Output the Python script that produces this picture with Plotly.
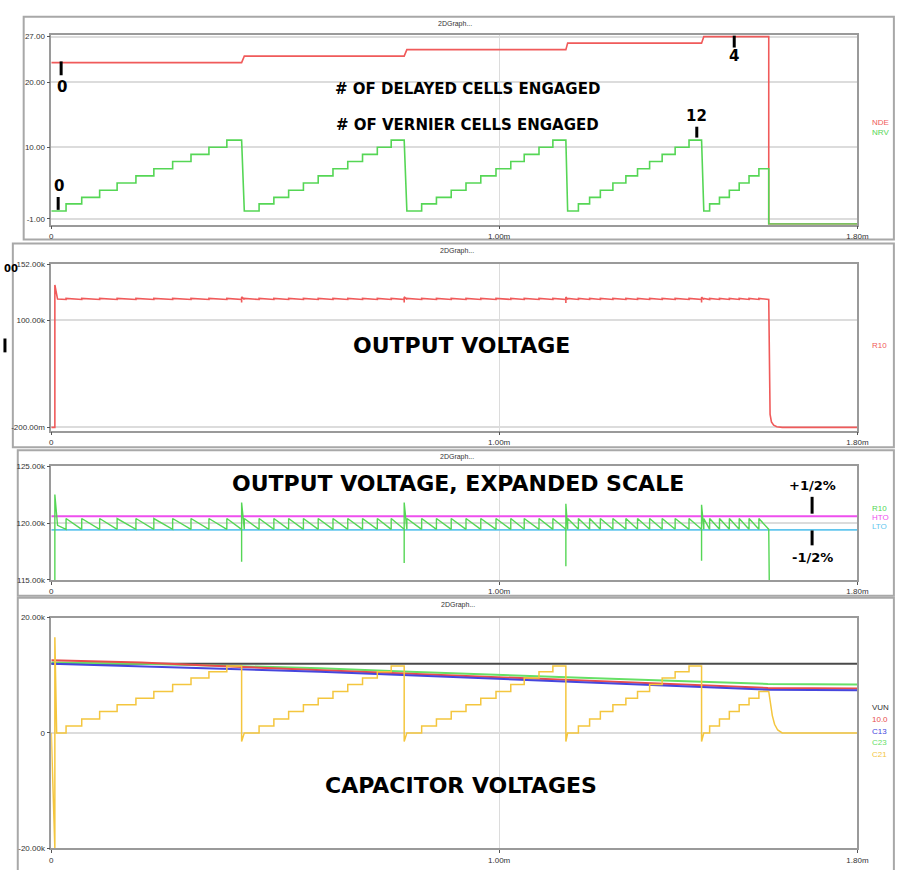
import plotly.graph_objects as go

W, H = 897, 870

# ---------------- data (time in ms) ----------------
# vernier step start times for each ramp (one list per delayed-cell state)
ramp1_t = [0.000, 0.033, 0.068, 0.108, 0.147, 0.189, 0.229, 0.271, 0.312, 0.352, 0.392]
ramp2_t = [0.431, 0.464, 0.497, 0.530, 0.563, 0.596, 0.629, 0.662, 0.695, 0.728, 0.759]
ramp3_t = [0.794, 0.827, 0.860, 0.893, 0.926, 0.959, 0.993, 1.026, 1.056, 1.089, 1.120]
ramp4_t = [1.153, 1.177, 1.202, 1.226, 1.254, 1.283, 1.309, 1.336, 1.364, 1.393, 1.424]
ramp5_t = [1.457, 1.470, 1.492, 1.514, 1.536, 1.558, 1.580]
ramp_times = [ramp1_t, ramp2_t, ramp3_t, ramp4_t, ramp5_t]
ramp_ends = [0.425, 0.788, 1.149, 1.452, 1.602]   # last one = turn-off
t_stop = 1.8

# panel 1 values
vern_vals = [0.2, 1.3, 2.3, 3.4, 4.5, 5.6, 6.7, 7.8, 8.9, 10.0, 11.1]
delay_vals = [23, 24, 25, 26, 27]
off_level = -1.8

# panel 2/3 output voltage values
vout_high = 120400
vout_low = 119450
vout_settle = 119800
vout_peak_p2 = 133000
vout_peak_p3 = 122500
spike_hi = [121800, 121800, 121700, 121600]
spike_lo = [116600, 116500, 116200, 116700]
vout_off_t = [1.602, 1.605, 1.608, 1.613, 1.620, 1.632, 1.8]
vout_off_v = [119450, 12000, 5000, 2000, 600, 0, 0]
htol = 120600
ltol = 119400

# panel 4 capacitor voltages
cap_t = [0.0, 0.2, 0.4, 0.6, 0.8, 1.0, 1.2, 1.4, 1.6, 1.8]
vunreg = [12000, 12000, 12000, 12000, 12000, 12000, 12000, 12000, 12000, 12000]
cap_red = [12600, 12200, 11500, 10900, 10200, 9600, 9000, 8500, 7800, 7700]
cap_blue = [12000, 11600, 11100, 10600, 10000, 9400, 8700, 8100, 7500, 7400]
cap_green = [12200, 12000, 11600, 11200, 10600, 10000, 9500, 9000, 8500, 8400]
yel_vals = [0, 1200, 2400, 3700, 4900, 6000, 7200, 8400, 9500, 10600, 11600]
yel_drop = -1500
yel_start_t = [0.0, 0.008, 0.008, 0.012]
yel_start_v = [0, -20000, 16600, 0]
yel_off_t = [1.602, 1.606, 1.610, 1.615, 1.622, 1.632, 1.8]
yel_off_v = [7200, 5000, 3000, 1500, 500, 0, 0]

# legend labels (visible part at the right edge of the window)
leg_p1 = ["NDE", "NRV"]
leg_p2 = ["R10"]
leg_p3 = ["R10", "HTO", "LTO"]
leg_p4 = ["VUN", "10.0", "C13", "C23", "C21"]

# ---------------- build traces ----------------
# vernier count
gx, gy = [], []
for times, tend in zip(ramp_times, ramp_ends):
    for i, t in enumerate(times):
        t2 = times[i + 1] if i + 1 < len(times) else tend
        gx += [t, t2]
        gy += [vern_vals[i], vern_vals[i]]
gx += [ramp_ends[-1], t_stop]
gy += [off_level, off_level]

# delayed count
rx, ry = [], []
for k, times in enumerate(ramp_times):
    rx += [times[0], ramp_ends[k]]
    ry += [delay_vals[k], delay_vals[k]]
rx += [ramp_ends[-1], t_stop]
ry += [off_level, off_level]


def make_vout(peak):
    xs = [0.0, 0.008, 0.008, 0.014]
    ys = [0, 0, peak, vout_settle]
    for k, times in enumerate(ramp_times):
        start = 1 if k == 0 else 0
        for t in times[start:]:
            xs += [t, t]
            ys += [vout_low, vout_high]
        if k < len(ramp_times) - 1:
            te = ramp_ends[k]
            xs += [te, te, te]
            ys += [vout_low, spike_lo[k], spike_hi[k]]
    xs += vout_off_t
    ys += vout_off_v
    return xs, ys


v2x, v2y = make_vout(vout_peak_p2)
v3x, v3y = make_vout(vout_peak_p3)

# capacitor (yellow) staircase
yx, yy = list(yel_start_t), list(yel_start_v)
for k, (times, tend) in enumerate(zip(ramp_times, ramp_ends)):
    for i, t in enumerate(times):
        t2 = times[i + 1] if i + 1 < len(times) else tend
        if k == 0 and i == 0:
            t = yel_start_t[-1]
        yx += [t, t2]
        yy += [yel_vals[i], yel_vals[i]]
    if k < len(ramp_times) - 1:
        yx.append(tend)
        yy.append(yel_drop)
yx += yel_off_t
yy += yel_off_v

# ---------------- colours ----------------
RED = "#f05a5a"
GREEN = "#55d655"
MAGENTA = "#ee4fee"
CYAN = "#62c6ee"
C_BLACK = "#4a4a4a"
C_RED = "#e84c4c"
C_BLUE = "#4646de"
C_GREEN = "#66e066"
C_YEL = "#f4c63e"

fig = go.Figure()
fig.add_trace(go.Scatter(x=rx, y=ry, mode="lines", line=dict(color=RED, width=1.6), xaxis="x", yaxis="y"))
fig.add_trace(go.Scatter(x=gx, y=gy, mode="lines", line=dict(color=GREEN, width=1.6), xaxis="x", yaxis="y"))

fig.add_trace(go.Scatter(x=v2x, y=v2y, mode="lines", line=dict(color=RED, width=1.6), xaxis="x2", yaxis="y2"))

fig.add_trace(go.Scatter(x=[0, t_stop], y=[htol, htol], mode="lines", line=dict(color=MAGENTA, width=1.8), xaxis="x3", yaxis="y3"))
fig.add_trace(go.Scatter(x=[0, t_stop], y=[ltol, ltol], mode="lines", line=dict(color=CYAN, width=1.8), xaxis="x3", yaxis="y3"))
fig.add_trace(go.Scatter(x=v3x, y=v3y, mode="lines", line=dict(color=GREEN, width=1.4), xaxis="x3", yaxis="y3"))

fig.add_trace(go.Scatter(x=cap_t, y=vunreg, mode="lines", line=dict(color=C_BLACK, width=2), xaxis="x4", yaxis="y4"))
fig.add_trace(go.Scatter(x=cap_t, y=cap_green, mode="lines", line=dict(color=C_GREEN, width=2), xaxis="x4", yaxis="y4"))
fig.add_trace(go.Scatter(x=cap_t, y=cap_red, mode="lines", line=dict(color=C_RED, width=2), xaxis="x4", yaxis="y4"))
fig.add_trace(go.Scatter(x=cap_t, y=cap_blue, mode="lines", line=dict(color=C_BLUE, width=2), xaxis="x4", yaxis="y4"))
fig.add_trace(go.Scatter(x=yx, y=yy, mode="lines", line=dict(color=C_YEL, width=1.5), xaxis="x4", yaxis="y4"))

# ---------------- axes ----------------
def px(x):
    return x / W


def py(y):
    return 1 - y / H


xdom = [px(50), px(868)]
tickfont = dict(family="Liberation Sans", size=8, color="#333")
common_x = dict(domain=xdom, range=[0, t_stop], tickvals=[0, 1.0, 1.8],
                ticktext=["0", "1.00m", "1.80m"], showgrid=True, gridcolor="#dcdcdc",
                gridwidth=1, zeroline=False, showline=True, mirror=True, linecolor="#9a9a9a",
                linewidth=1.5, ticks="outside", ticklen=3, tickcolor="#555", tickfont=tickfont)
common_y = dict(showgrid=True, gridcolor="#dcdcdc", gridwidth=1.5, zeroline=False, showline=True,
                mirror=True, linecolor="#9a9a9a", linewidth=1.5, ticks="outside", ticklen=3,
                tickcolor="#555", tickfont=tickfont)

panels = [(31, 223), (263, 431), (467, 582), (620, 853)]
yconf = [
    dict(range=[-1.9, 27.3], tickvals=[-1, 10, 20, 27], ticktext=["-1.00", "10.00", "20.00", "27.00"]),
    dict(range=[-3000, 152300], tickvals=[-0.2, 100000, 152000], ticktext=["-200.00m", "100.00k", "152.00k"]),
    dict(range=[115000, 125000], tickvals=[115000, 120000, 125000], ticktext=["115.00k", "120.00k", "125.00k"]),
    dict(range=[-20000, 20000], tickvals=[-20000, 0, 20000], ticktext=["-20.00k", "0", "20.00k"]),
]
layout_axes = {}
for i, ((top, bot), yc) in enumerate(zip(panels, yconf), start=1):
    sx = "" if i == 1 else str(i)
    layout_axes["xaxis" + sx] = dict(common_x, anchor="y" + sx)
    layout_axes["yaxis" + sx] = dict(common_y, domain=[py(bot), py(top)], anchor="x" + sx, **yc)

fig.update_layout(**layout_axes)

# ---------------- frames, marks, texts ----------------
shapes = []
for (x0, y0, x1, y1) in [(22, 13, 905, 238), (11, 242, 905, 448), (16, 451, 905, 598), (16, 600, 905, 878)]:
    shapes.append(dict(type="rect", xref="paper", yref="paper", x0=px(x0), x1=px(x1), y0=py(y1), y1=py(y0),
                       line=dict(color="#a8a8a8", width=2), fillcolor="rgba(0,0,0,0)", layer="below"))
for (x, y0, y1) in [(60, 58, 72), (57, 195, 208), (743, 32, 44), (705, 124, 135), (822, 498, 515), (822, 532, 547), (3, 338, 352)]:
    shapes.append(dict(type="line", xref="paper", yref="paper", x0=px(x), x1=px(x), y0=py(y1), y1=py(y0),
                       line=dict(color="black", width=3)))

ann = []


def text(x, y, s, size, color="black", bold=True, family="DejaVu Sans", xanchor="center"):
    ann.append(dict(xref="paper", yref="paper", x=px(x), y=py(y), text=("<b>%s</b>" % s) if bold else s,
                    showarrow=False, xanchor=xanchor, yanchor="middle",
                    font=dict(family=family, size=size, color=color)))


for (x, y) in [(460, 20), (462, 250), (462, 458), (463, 607)]:
    text(x, y, "2DGraph...", 7, color="#333", bold=False, family="Liberation Sans")

text(472, 86, "# OF DELAYED CELLS ENGAGED", 15)
text(472, 122, "# OF VERNIER CELLS ENGAGED", 15)
text(466, 345, "OUTPUT VOLTAGE", 22)
text(463, 485, "OUTPUT VOLTAGE, EXPANDED SCALE", 22)
text(466, 790, "CAPACITOR VOLTAGES", 22)

text(61, 84, "0", 15)
text(58, 184, "0", 15)
text(743, 53, "4", 15)
text(705, 113, "12", 15)
text(822, 487, "+1/2%", 13)
text(822, 559, "-1/2%", 13)
text(0, 267, "00", 10, xanchor="left")

leg = [
    (120, leg_p1[0], RED), (130, leg_p1[1], GREEN),
    (345, leg_p2[0], RED),
    (510, leg_p3[0], GREEN), (519, leg_p3[1], MAGENTA), (528, leg_p3[2], CYAN),
    (711, leg_p4[0], "#333"), (723, leg_p4[1], C_RED), (735, leg_p4[2], C_BLUE),
    (746, leg_p4[3], C_GREEN), (758, leg_p4[4], C_YEL),
]
for (y, s, c) in leg:
    text(881, y, s, 8, color=c, bold=False, family="Liberation Sans", xanchor="left")

fig.update_layout(width=W, height=H, margin=dict(l=0, r=0, t=0, b=0),
                  paper_bgcolor="white", plot_bgcolor="white", showlegend=False,
                  shapes=shapes, annotations=ann)

fig.write_html("out.html", config={"displayModeBar": False},
               post_script="document.body.style.margin='0px';document.body.style.overflow='hidden';")
